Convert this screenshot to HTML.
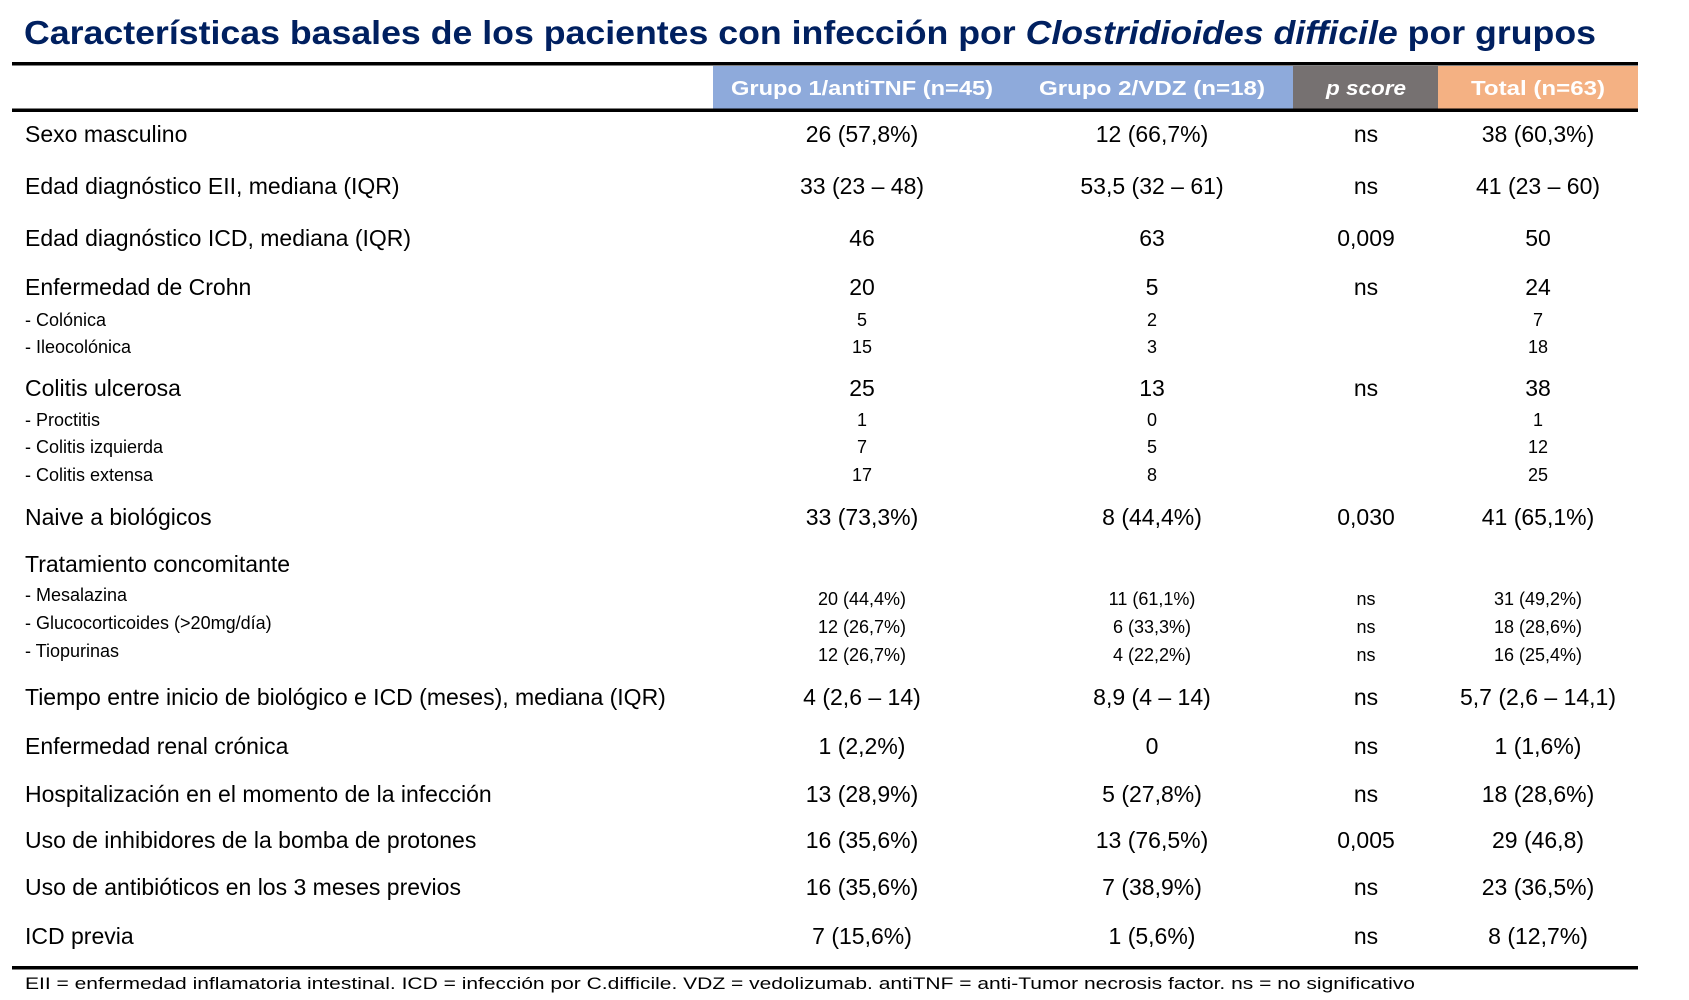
<!DOCTYPE html>
<html><head><meta charset="utf-8"><style>
html,body{margin:0;padding:0;background:#fff;}
svg{display:block;font-family:"Liberation Sans",sans-serif;}
</style></head><body>
<svg width="1689" height="1000" viewBox="0 0 1689 1000">
<text x="24" y="44" font-size="33" font-weight="bold" fill="#002060" textLength="1572" lengthAdjust="spacingAndGlyphs">Características basales de los pacientes con infección por <tspan font-style="italic">Clostridioides difficile</tspan> por grupos</text>
<rect x="12" y="62" width="1626" height="3.5" fill="#000"/>
<rect x="713" y="66" width="291" height="43" fill="#8eaadb"/>
<rect x="1004" y="66" width="289" height="43" fill="#8eaadb"/>
<rect x="1293" y="66" width="145" height="43" fill="#767171"/>
<rect x="1438" y="66" width="200" height="43" fill="#f4b183"/>
<g font-size="20" font-weight="bold" fill="#fff" text-anchor="middle">
<text x="862" y="95" textLength="262" lengthAdjust="spacingAndGlyphs">Grupo 1/antiTNF (n=45)</text>
<text x="1152" y="95" textLength="226" lengthAdjust="spacingAndGlyphs">Grupo 2/VDZ (n=18)</text>
<text x="1366" y="95" font-style="italic" textLength="80" lengthAdjust="spacingAndGlyphs">p score</text>
<text x="1538" y="95" textLength="134" lengthAdjust="spacingAndGlyphs">Total (n=63)</text>
</g>
<rect x="12" y="108.5" width="1626" height="3.5" fill="#000"/>
<g id="rows" fill="#000"></g>
<rect x="12" y="966" width="1626" height="3.5" fill="#000"/>
<text x="25" y="989" font-size="17" textLength="1390" lengthAdjust="spacingAndGlyphs">EII = enfermedad inflamatoria intestinal. ICD = infección por C.difficile. VDZ = vedolizumab. antiTNF = anti-Tumor necrosis factor. ns = no significativo</text>
</svg>
<script>
const labels=[
["Sexo masculino",134,0],["Edad diagnóstico EII, mediana (IQR)",186,0],["Edad diagnóstico ICD, mediana (IQR)",238,0],
["Enfermedad de Crohn",287,0],["- Colónica",318,1],["- Ileocolónica",345,1],
["Colitis ulcerosa",388,0],["- Proctitis",418,1],["- Colitis izquierda",445,1],["- Colitis extensa",473,1],
["Naive a biológicos",517,0],["Tratamiento concomitante",564,0],["- Mesalazina",593,1],["- Glucocorticoides (>20mg/día)",621,1],["- Tiopurinas",649,1],
["Tiempo entre inicio de biológico e ICD (meses), mediana (IQR)",697,0],["Enfermedad renal crónica",746,0],
["Hospitalización en el momento de la infección",794,0],["Uso de inhibidores de la bomba de protones",840,0],
["Uso de antibióticos en los 3 meses previos",887,0],["ICD previa",936,0]];
const rowValues=[
[134,0,"26 (57,8%)","12 (66,7%)","ns","38 (60,3%)"],
[186,0,"33 (23 – 48)","53,5 (32 – 61)","ns","41 (23 – 60)"],
[238,0,"46","63","0,009","50"],
[287,0,"20","5","ns","24"],[318,1,"5","2","","7"],[345,1,"15","3","","18"],
[388,0,"25","13","ns","38"],[418,1,"1","0","","1"],[445,1,"7","5","","12"],[473,1,"17","8","","25"],
[517,0,"33 (73,3%)","8 (44,4%)","0,030","41 (65,1%)"],
[597,1,"20 (44,4%)","11 (61,1%)","ns","31 (49,2%)"],
[625,1,"12 (26,7%)","6 (33,3%)","ns","18 (28,6%)"],
[653,1,"12 (26,7%)","4 (22,2%)","ns","16 (25,4%)"],
[697,0,"4 (2,6 – 14)","8,9 (4 – 14)","ns","5,7 (2,6 – 14,1)"],
[746,0,"1 (2,2%)","0","ns","1 (1,6%)"],
[794,0,"13 (28,9%)","5 (27,8%)","ns","18 (28,6%)"],
[840,0,"16 (35,6%)","13 (76,5%)","0,005","29 (46,8)"],
[887,0,"16 (35,6%)","7 (38,9%)","ns","23 (36,5%)"],
[936,0,"7 (15,6%)","1 (5,6%)","ns","8 (12,7%)"]];
const colX=[862,1152,1366,1538];
const g=document.getElementById('rows');
const NS="http://www.w3.org/2000/svg";
function mk(x,y,s,small,anchor){
 const t=document.createElementNS(NS,'text');
 t.setAttribute('x',x);t.setAttribute('y',y+8);
 t.setAttribute('font-size',small?18:23);
 if(anchor)t.setAttribute('text-anchor','middle');
 t.textContent=s;g.appendChild(t);return t;
}
labels.forEach(l=>{
 const t=mk(25,l[1],l[0],l[2],false);
 
 
});
rowValues.forEach(r=>{
 for(let i=0;i<4;i++){ if(!r[2+i])continue;
  const t=mk(colX[i],r[0],r[2+i],r[1],true);
  
  
 }
});
</script>
</body></html>
